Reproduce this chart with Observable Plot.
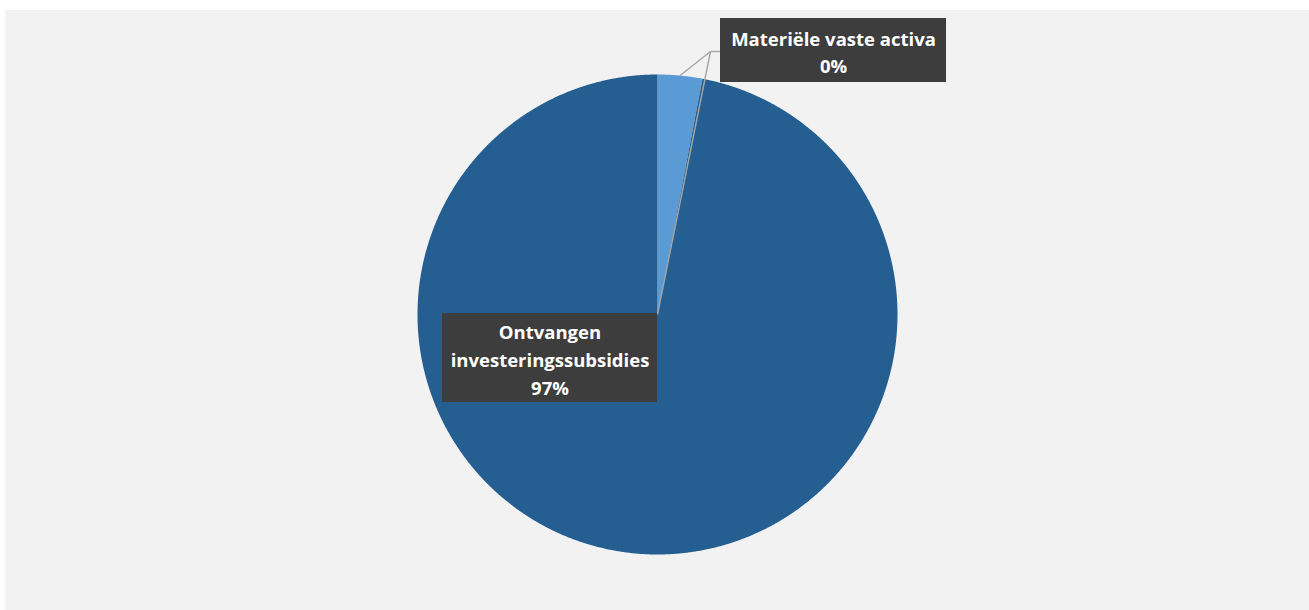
<!DOCTYPE html>
<html>
<head>
<meta charset="utf-8">
<script src="https://cdn.jsdelivr.net/npm/d3@7"></script>
<script src="https://cdn.jsdelivr.net/npm/@observablehq/plot@0.6"></script>
<style>
  html, body { margin: 0; padding: 0; background: #ffffff; }
  #wrap { position: relative; width: 1309px; height: 610px; }
  #bg { position: absolute; left: 5px; top: 10px; width: 1304px; height: 600px; background: #f2f2f2; }
  #chart { position: absolute; left: 0; top: 0; }
</style>
</head>
<body>
<div id="wrap"><div id="bg"></div><div id="chart"></div></div>
<script>
// ---- data ----
const categories = ["Materiële vaste activa", "Ontvangen investeringssubsidies"];
const values = [3, 97];
const percentLabels = ["0%", "97%"];
const colors = ["#5b9bd5", "#255e91"];

// ---- layout ----
const W = 1309, H = 610;
const cx = 657, cy = 314, R = 240;
const labelBoxes = [
  {x1: 720, x2: 946, y1: 18, y2: 82},
  {x1: 442, x2: 657, y1: 313, y2: 402}
];
const junction = {x: 710, y: 51};

// pie geometry from data
const arcs = d3.pie().sort(null).startAngle(0).endAngle(2 * Math.PI)(values);
const pt = (a, r) => ({x: cx + r * Math.sin(a), y: cy - r * Math.cos(a)});
const polys = [];
arcs.forEach((a, i) => {
  const cat = categories[i];
  polys.push({cat, ...pt(0, 0)});
  const n = Math.max(8, Math.ceil((a.endAngle - a.startAngle) / 0.005));
  for (let k = 0; k <= n; k++) {
    const ang = a.startAngle + (a.endAngle - a.startAngle) * k / n;
    polys.push({cat, ...pt(ang, R)});
  }
  polys.push({cat, ...pt(0, 0)});
});

const labels = categories.map((c, i) => ({
  cat: c,
  text: (i === 0 ? c : "Ontvangen\ninvesteringssubsidies") + "\n" + percentLabels[i],
  ...labelBoxes[i],
  xc: (labelBoxes[i].x1 + labelBoxes[i].x2) / 2,
  yc: (labelBoxes[i].y1 + labelBoxes[i].y2) / 2
}));

// leader lines: to mid-arc of first slice and along its boundary
const midA = (arcs[0].startAngle + arcs[0].endAngle) / 2;
const leaders = [
  {x1: junction.x, y1: junction.y, x2: labelBoxes[0].x1, y2: junction.y},
  {x1: junction.x, y1: junction.y, ...(p => ({x2: p.x, y2: p.y}))(pt(midA, R))},
  {x1: junction.x, y1: junction.y, ...(p => ({x2: p.x, y2: p.y}))(pt(arcs[0].endAngle, 0))}
];

const chart = Plot.plot({
  width: W, height: H,
  margin: 0,
  x: {domain: [0, W], range: [0, W], axis: null},
  y: {domain: [0, H], range: [0, H], axis: null},
  color: {domain: categories, range: colors},
  style: {background: "transparent", overflow: "visible"},
  marks: [
    Plot.line(polys, {x: "x", y: "y", z: "cat", fill: "cat", stroke: "none", curve: "linear"}),
    Plot.link(leaders, {x1: "x1", y1: "y1", x2: "x2", y2: "y2", stroke: "#a5a5a5", strokeWidth: 1.4, ariaLabel: "leader"}),
    Plot.rect(labels, {x1: "x1", x2: "x2", y1: "y1", y2: "y2", fill: "#3d3d3d", ariaLabel: "label-box"}),
    Plot.text(labels, {x: "xc", y: "yc", text: "text", fill: "white", fontSize: 18.5, fontWeight: "bold",
      fontFamily: "'Open Sans', Lato, sans-serif", lineHeight: 1.5, textAnchor: "middle"})
  ]
});
document.getElementById("chart").appendChild(chart);

// dotted texture + drop shadow for label boxes
const svg = d3.select(chart);
const defs = svg.insert("defs", ":first-child");
const pat = defs.append("pattern").attr("id", "dots").attr("patternUnits", "userSpaceOnUse")
  .attr("width", 5).attr("height", 5);
pat.append("rect").attr("width", 5).attr("height", 5).attr("fill", "#383838");
pat.append("circle").attr("cx", 1.5).attr("cy", 1.5).attr("r", 1).attr("fill", "#4c4c4c");
pat.append("circle").attr("cx", 4).attr("cy", 4).attr("r", 0.8).attr("fill", "#454545");
svg.selectAll("g[aria-label='label-box'] rect")
  .attr("fill", "url(#dots)")
  .style("filter", "drop-shadow(3px 3px 2px rgba(0,0,0,0.45))");
</script>
</body>
</html>
